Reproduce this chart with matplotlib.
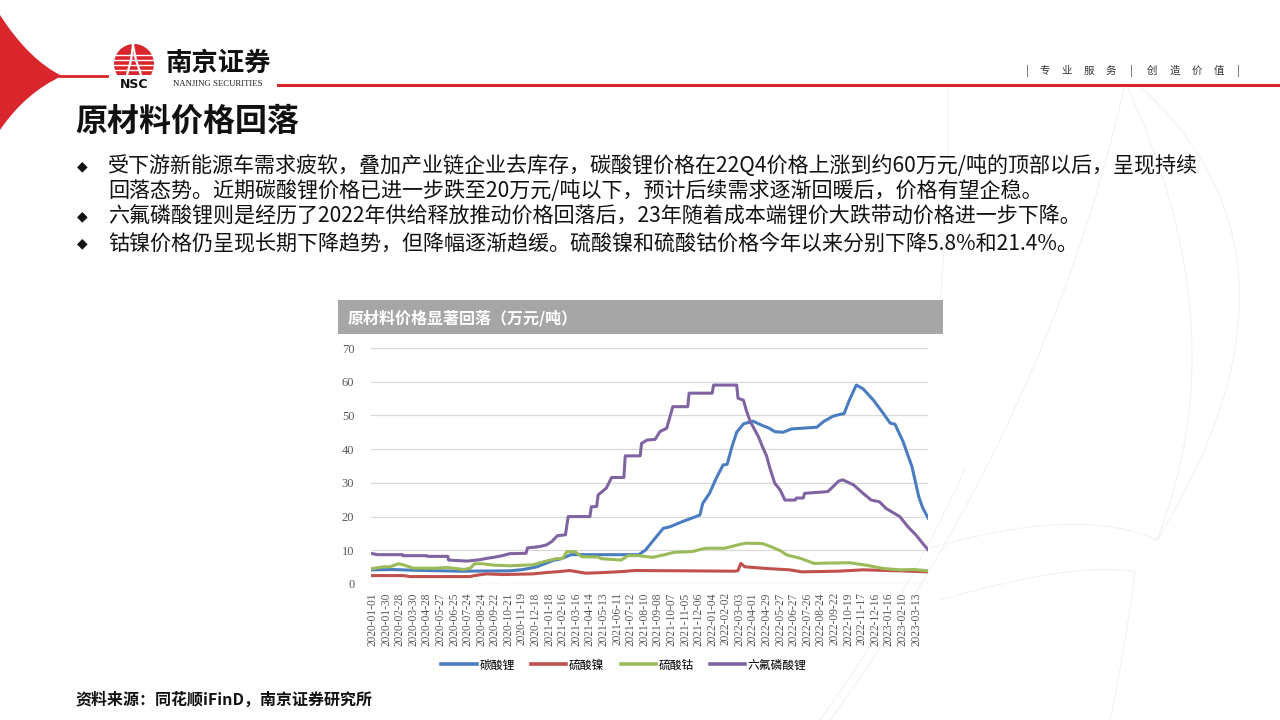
import matplotlib.pyplot as plt
from matplotlib.path import Path
from matplotlib.patches import PathPatch, Rectangle, Circle
from matplotlib.lines import Line2D

plt.rcParams['font.family'] = ['Noto Sans CJK SC', 'DejaVu Sans']

# x axis: one label every 20 trading days (category axis), positions in label units
date_labels = [
    '2020-01-01', '2020-01-30', '2020-02-28', '2020-03-30', '2020-04-28', '2020-05-27',
    '2020-06-25', '2020-07-24', '2020-08-24', '2020-09-22', '2020-10-21', '2020-11-19',
    '2020-12-18', '2021-01-18', '2021-02-16', '2021-03-16', '2021-04-14', '2021-05-13',
    '2021-06-11', '2021-07-12', '2021-08-10', '2021-09-08', '2021-10-07', '2021-11-05',
    '2021-12-06', '2022-01-04', '2022-02-02', '2022-03-03', '2022-04-01', '2022-04-29',
    '2022-05-27', '2022-06-27', '2022-07-26', '2022-08-24', '2022-09-22', '2022-10-19',
    '2022-11-17', '2022-12-16', '2023-01-16', '2023-02-10', '2023-03-13',
]

# 碳酸锂 (万元/吨)
li2co3_x = [0, 1.5, 2.8, 6.4, 10.1, 11.1, 12.1, 13.3, 13.9, 14.6, 19.6, 20.1, 20.8, 21.4,
            21.9, 22.8, 23.8, 24.1, 24.3, 24.8, 25.3, 25.8, 26.1, 26.45, 26.8, 27.3, 28.0,
            28.7, 29.2, 29.6, 30.2, 30.85, 32.7, 33.2, 33.9, 34.5, 34.7, 35.1, 35.6, 36.1,
            36.85, 37.5, 38.1, 38.45, 39.05, 39.7, 40.2, 40.5, 40.9]
li2co3_y = [4.2, 4.3, 4.1, 3.8, 3.9, 4.3, 5.1, 7.0, 7.5, 8.7, 8.7, 10.1, 13.6, 16.5,
            17.0, 18.5, 20.0, 20.5, 23.9, 26.9, 31.4, 35.3, 35.5, 40.7, 45.0, 47.5, 48.3,
            47.0, 46.2, 45.2, 45.0, 46.0, 46.5, 48.2, 49.8, 50.4, 50.5, 54.6, 59.0, 57.9,
            54.6, 51.1, 47.7, 47.4, 42.2, 34.8, 25.9, 22.5, 19.5]

# 硫酸镍
niso4_x = [0, 2.25, 2.8, 7.2, 7.5, 8.4, 9.6, 11.8, 12.8, 13.8, 14.5, 15.7, 17.0, 18.4,
           19.3, 26.7, 26.9, 27.1, 27.4, 29.0, 30.7, 31.6, 34.3, 36.1, 38.8, 40.9]
niso4_y = [2.5, 2.5, 2.2, 2.2, 2.5, 3.0, 2.8, 3.0, 3.4, 3.7, 4.0, 3.2, 3.4, 3.7,
           4.0, 3.8, 4.0, 6.1, 5.1, 4.6, 4.2, 3.6, 3.8, 4.2, 3.9, 3.6]

# 硫酸钴
coso4_x = [0, 0.8, 1.3, 1.9, 2.25, 3.0, 4.7, 5.5, 6.7, 7.2, 7.5, 8.1, 8.9, 10.1, 11.8,
           12.5, 13.5, 14.0, 14.3, 14.9, 15.4, 16.6, 16.85, 18.3, 18.8, 19.6, 20.6, 21.4,
           22.2, 23.5, 24.5, 25.9, 27.1, 27.5, 28.7, 29.3, 30.0, 30.5, 31.5, 32.5, 33.4,
           35.1, 36.3, 37.6, 38.8, 39.8, 40.9]
coso4_y = [4.6, 5.1, 5.1, 6.0, 5.7, 4.7, 4.7, 4.9, 4.3, 4.7, 6.0, 6.0, 5.6, 5.4, 5.7,
           6.5, 7.5, 7.6, 9.6, 9.6, 8.1, 8.0, 7.5, 7.1, 8.4, 8.4, 7.9, 8.6,
           9.4, 9.6, 10.6, 10.6, 11.8, 12.1, 12.0, 11.1, 9.9, 8.6, 7.6, 6.1, 6.2,
           6.3, 5.6, 4.6, 4.2, 4.3, 3.9]

# 六氟磷酸锂
lipf6_x = [0, 0.35, 2.2, 2.25, 4.0, 4.05, 5.55, 5.6, 6.95, 7.9, 8.4, 8.9, 9.55, 10.1,
           11.3, 11.4, 12.3, 12.8, 13.2, 13.6, 14.2, 14.4, 16.0, 16.1, 16.5, 16.6, 17.2,
           17.6, 18.5, 18.6, 19.7, 19.8, 20.2, 20.8, 21.15, 21.65, 22.1, 23.2, 23.3, 25.0,
           25.1, 26.8, 26.9, 27.3, 27.5, 27.8, 28.4, 28.7, 29.0, 29.25, 29.6, 30.0, 30.35,
           31.1, 31.2, 31.7, 31.8, 33.5, 33.9, 34.3, 34.6, 35.4, 36.1, 36.7, 37.3, 37.8,
           38.8, 39.4, 40.0, 40.5, 40.9]
lipf6_y = [9.0, 8.7, 8.7, 8.4, 8.4, 8.2, 8.2, 7.1, 6.8, 7.2, 7.6, 7.9, 8.4, 9.0,
           9.1, 10.7, 11.1, 11.6, 12.6, 14.3, 14.6, 20.0, 20.0, 22.9, 23.0, 26.4, 28.4,
           31.6, 31.6, 38.0, 38.0, 41.7, 42.7, 42.9, 45.2, 46.2, 52.6, 52.6, 56.6, 56.6,
           59.0, 59.0, 55.1, 54.5, 51.6, 48.2, 43.7, 40.7, 38.0, 34.3, 29.9, 27.9, 24.9,
           24.9, 25.5, 25.5, 26.9, 27.4, 28.9, 30.5, 30.9, 29.4, 26.9, 24.9, 24.4, 22.4,
           20.0, 17.0, 14.5, 12.0, 10.1]

series_names = ['碳酸锂', '硫酸镍', '硫酸钴', '六氟磷酸锂']
series_colors = ['#4A7DC0', '#C0504D', '#9BBB59', '#8064A2']

bullets = [
    '受下游新能源车需求疲软，叠加产业链企业去库存，碳酸锂价格在22Q4价格上涨到约60万元/吨的顶部以后，呈现持续',
    '回落态势。近期碳酸锂价格已进一步跌至20万元/吨以下，预计后续需求逐渐回暖后，价格有望企稳。',
    '六氟磷酸锂则是经历了2022年供给释放推动价格回落后，23年随着成本端锂价大跌带动价格进一步下降。',
    '钴镍价格仍呈现长期下降趋势，但降幅逐渐趋缓。硫酸镍和硫酸钴价格今年以来分别下降5.8%和21.4%。',
]
bullet_marks = [True, False, True, True]

fig = plt.figure(figsize=(12.8, 7.2), dpi=100)

# page layer in pixel coordinates
bg = fig.add_axes([0, 0, 1, 1])
bg.set_xlim(0, 1280)
bg.set_ylim(720, 0)
bg.axis('off')

# faint watermark arcs
arc_col = '#F0F0F0'
def quad(p0, c, p1):
    return Path([p0, c, p1], [Path.MOVETO, Path.CURVE3, Path.CURVE3])
for p0, c, p1 in [((1125, 84), (1050, 420), (830, 720)),
                  ((1127, 86), (1240, 330), (1157, 540)),
                  ((1140, 86), (1330, 260), (1157, 540)),
                  ((930, 548), (1080, 505), (1157, 540)),
                  ((940, 600), (1080, 560), (1135, 572)),
                  ((1135, 572), (1125, 650), (1110, 720)),
                  ((820, 720), (900, 610), (965, 470)),
                  ((948, 86), (950, 200), (938, 330))]:
    bg.add_patch(PathPatch(quad(p0, c, p1), fill=False, ec=arc_col, lw=0.7))

# red corner shape
corner = Path([(-5, 15), (0, 15), (29, 60), (62, 76), (25, 93), (0, 130), (-5, 130), (-5, 15)],
              [Path.MOVETO, Path.LINETO, Path.CURVE3, Path.CURVE3, Path.CURVE3, Path.CURVE3,
               Path.LINETO, Path.CLOSEPOLY])
bg.add_patch(PathPatch(corner, fc='#D9262C', ec='none'))
bg.plot([60, 107], [76, 76], color='#D9262C', lw=2)
bg.plot([278, 1280], [85, 85], color='#D9262C', lw=2.2)

# logo emblem
dome = Circle((134, 64), 20, fc='#D9262C', ec='none')
bg.add_patch(dome)
bg.add_patch(Rectangle((110, 75), 50, 12, fc='white', ec='none'))
for yy in [55, 60, 65, 70]:
    bg.plot([112, 156], [yy, yy], color='white', lw=1.0)
bg.plot([133, 131, 127], [45, 60, 75], color='white', lw=1.6)
bg.plot([133, 136, 141], [45, 60, 75], color='white', lw=1.6)
bg.text(134, 84, 'NSC', fontsize=9, fontweight='bold', family='DejaVu Sans',
        ha='center', va='center', color='#111111')
bg.text(218, 63, '南京证券', fontsize=19, fontweight='bold', ha='center', va='center',
        color='#111111')
bg.text(218, 84, 'NANJING SECURITIES', fontsize=6.3, family='Liberation Serif',
        ha='center', va='center', color='#222222')

# header slogan
slogan = ['|', '专', '业', '服', '务', '|', '创', '造', '价', '值', '|']
slogan_x = [1027, 1045, 1067, 1089, 1111, 1131, 1152, 1175, 1197, 1219, 1238]
for ch, xx in zip(slogan, slogan_x):
    bg.text(xx, 71, ch, fontsize=7.5, ha='center', va='center', color='#333333')

# page title
bg.text(75, 122, '原材料价格回落', fontsize=23, fontweight='bold', ha='left', va='center',
        color='#111111')

# bullet text
line_y = [166, 191, 216, 243]
for txt, mark, yy in zip(bullets, bullet_marks, line_y):
    if mark:
        bg.text(82, yy, '◆', fontsize=10, ha='center', va='center', color='#111111',
                family=['DejaVu Sans'])
    bg.text(108, yy, txt, fontsize=15.15, ha='left', va='center', color='#111111')

# chart title bar
bg.add_patch(Rectangle((338, 300), 605, 34, fc='#A6A6A6', ec='none'))
bg.text(348, 318, '原材料价格显著回落（万元/吨）', fontsize=11.5, fontweight='bold',
        ha='left', va='center', color='white')

# source
bg.text(75, 700, '资料来源：同花顺iFinD，南京证券研究所', fontsize=11.5, fontweight='bold',
        ha='left', va='center', color='#111111')

# chart
ax = fig.add_axes([371 / 1280, 1 - 584 / 720, (928 - 371) / 1280, 236 / 720])
ax.patch.set_alpha(0)
all_x = [li2co3_x, niso4_x, coso4_x, lipf6_x]
all_y = [li2co3_y, niso4_y, coso4_y, lipf6_y]
handles = []
for xs, ys, name, col in zip(all_x, all_y, series_names, series_colors):
    h, = ax.plot(xs, ys, color=col, lw=2.2, label=name, solid_joinstyle='round')
    handles.append(h)

ax.set_xlim(-0.11, 40.88)
ax.set_ylim(0, 70)
ax.set_yticks(range(0, 71, 10))
ax.yaxis.grid(True, color='#D9D9D9', lw=0.9)
ax.set_axisbelow(True)
ax.set_xticks(range(len(date_labels)))
ax.set_xticklabels(date_labels, rotation=90, family='Liberation Serif', fontsize=8.3,
                   color='#595959')
for lab in ax.get_yticklabels():
    lab.set_family('Liberation Serif')
    lab.set_fontsize(9)
    lab.set_color('#595959')
ax.tick_params(axis='both', length=0)
ax.tick_params(axis='y', pad=12)
ax.tick_params(axis='x', pad=6)
for s in ax.spines.values():
    s.set_visible(False)

fig.legend(handles, series_names, loc='center', bbox_to_anchor=(624 / 1280, 1 - 665 / 720),
           ncol=4, frameon=False, fontsize=8.5, handlelength=3.0, columnspacing=1.4,
           handletextpad=0.2)
for lh in fig.legends[0].get_lines():
    lh.set_linewidth(2.6)

fig.savefig('out.png', dpi=100, facecolor='white')
